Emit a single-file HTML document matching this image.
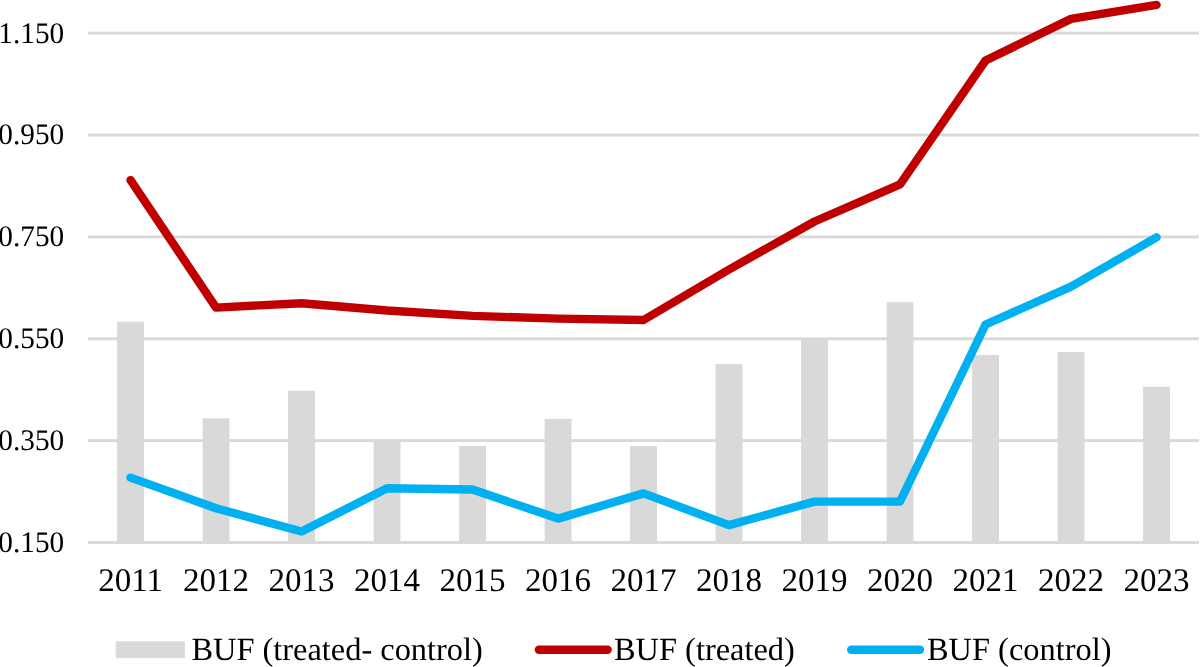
<!DOCTYPE html>
<html><head><meta charset="utf-8"><style>
html,body{margin:0;padding:0;background:#fff;width:1200px;height:667px;overflow:hidden}
svg{display:block;will-change:transform;font-family:"Liberation Serif",serif;fill:#000}
text{fill:#000;text-rendering:geometricPrecision}
</style></head><body>
<svg width="1200" height="667" viewBox="0 0 1200 667">
<rect width="1200" height="667" fill="#fff"/>
<rect x="88.0" y="31.65" width="1111.0" height="2.9" fill="#d9d9d9"/>
<rect x="88.0" y="133.61" width="1111.0" height="2.9" fill="#d9d9d9"/>
<rect x="88.0" y="235.45" width="1111.0" height="2.9" fill="#d9d9d9"/>
<rect x="88.0" y="337.35" width="1111.0" height="2.9" fill="#d9d9d9"/>
<rect x="88.0" y="439.15" width="1111.0" height="2.9" fill="#d9d9d9"/>
<rect x="88.0" y="541.05" width="1111.0" height="2.9" fill="#d9d9d9"/>
<rect x="117.10" y="321.70" width="26.9" height="220.80" fill="#d9d9d9"/>
<rect x="202.60" y="418.30" width="26.9" height="124.20" fill="#d9d9d9"/>
<rect x="288.10" y="390.70" width="26.9" height="151.80" fill="#d9d9d9"/>
<rect x="373.60" y="441.00" width="26.9" height="101.50" fill="#d9d9d9"/>
<rect x="459.10" y="445.80" width="26.9" height="96.70" fill="#d9d9d9"/>
<rect x="544.60" y="418.90" width="26.9" height="123.60" fill="#d9d9d9"/>
<rect x="630.10" y="446.00" width="26.9" height="96.50" fill="#d9d9d9"/>
<rect x="715.60" y="364.10" width="26.9" height="178.40" fill="#d9d9d9"/>
<rect x="801.10" y="339.20" width="26.9" height="203.30" fill="#d9d9d9"/>
<rect x="886.60" y="302.20" width="26.9" height="240.30" fill="#d9d9d9"/>
<rect x="972.10" y="355.10" width="26.9" height="187.40" fill="#d9d9d9"/>
<rect x="1057.60" y="352.00" width="26.9" height="190.50" fill="#d9d9d9"/>
<rect x="1143.10" y="386.80" width="26.9" height="155.70" fill="#d9d9d9"/>
<polyline points="130.55,477.60 216.05,508.30 301.55,531.50 387.05,488.30 472.55,489.50 558.05,518.60 643.55,493.40 729.05,525.10 814.55,501.60 900.05,501.50 985.55,324.50 1071.05,286.60 1156.55,237.30" fill="none" stroke="#00b0f0" stroke-width="8.4" stroke-linejoin="round" stroke-linecap="round"/>
<polyline points="130.55,180.10 216.05,307.60 301.55,303.20 387.05,310.50 472.55,315.90 558.05,318.60 643.55,320.00 729.05,269.50 814.55,221.50 900.05,184.30 985.55,60.50 1071.05,18.90 1156.55,4.90" fill="none" stroke="#c00000" stroke-width="8.4" stroke-linejoin="round" stroke-linecap="round"/>
<text transform="translate(64.2,42.50) scale(1.0,1.02)" text-anchor="end" font-size="29.3">1.150</text>
<text transform="translate(64.2,144.46) scale(1.0,1.02)" text-anchor="end" font-size="29.3">0.950</text>
<text transform="translate(64.2,246.30) scale(1.0,1.02)" text-anchor="end" font-size="29.3">0.750</text>
<text transform="translate(64.2,348.20) scale(1.0,1.02)" text-anchor="end" font-size="29.3">0.550</text>
<text transform="translate(64.2,450.00) scale(1.0,1.02)" text-anchor="end" font-size="29.3">0.350</text>
<text transform="translate(64.2,551.90) scale(1.0,1.02)" text-anchor="end" font-size="29.3">0.150</text>
<text x="130.55" y="591.0" text-anchor="middle" font-size="33.0">2011</text>
<text x="216.05" y="591.0" text-anchor="middle" font-size="33.0">2012</text>
<text x="301.55" y="591.0" text-anchor="middle" font-size="33.0">2013</text>
<text x="387.05" y="591.0" text-anchor="middle" font-size="33.0">2014</text>
<text x="472.55" y="591.0" text-anchor="middle" font-size="33.0">2015</text>
<text x="558.05" y="591.0" text-anchor="middle" font-size="33.0">2016</text>
<text x="643.55" y="591.0" text-anchor="middle" font-size="33.0">2017</text>
<text x="729.05" y="591.0" text-anchor="middle" font-size="33.0">2018</text>
<text x="814.55" y="591.0" text-anchor="middle" font-size="33.0">2019</text>
<text x="900.05" y="591.0" text-anchor="middle" font-size="33.0">2020</text>
<text x="985.55" y="591.0" text-anchor="middle" font-size="33.0">2021</text>
<text x="1071.05" y="591.0" text-anchor="middle" font-size="33.0">2022</text>
<text x="1156.55" y="591.0" text-anchor="middle" font-size="33.0">2023</text>
<rect x="115.7" y="641.3" width="69.2" height="16.6" fill="#d9d9d9"/>
<text x="191.4" y="659.6" font-size="32.4">BUF (treated- control)</text>
<line x1="538.9" y1="649.7" x2="607.6" y2="649.7" stroke="#c00000" stroke-width="8.4" stroke-linecap="round"/>
<text x="614" y="659.6" font-size="32.4">BUF (treated)</text>
<line x1="851.2" y1="649.7" x2="920" y2="649.7" stroke="#00b0f0" stroke-width="8.4" stroke-linecap="round"/>
<text x="927" y="659.6" font-size="32.4">BUF (control)</text>
</svg>
</body></html>
